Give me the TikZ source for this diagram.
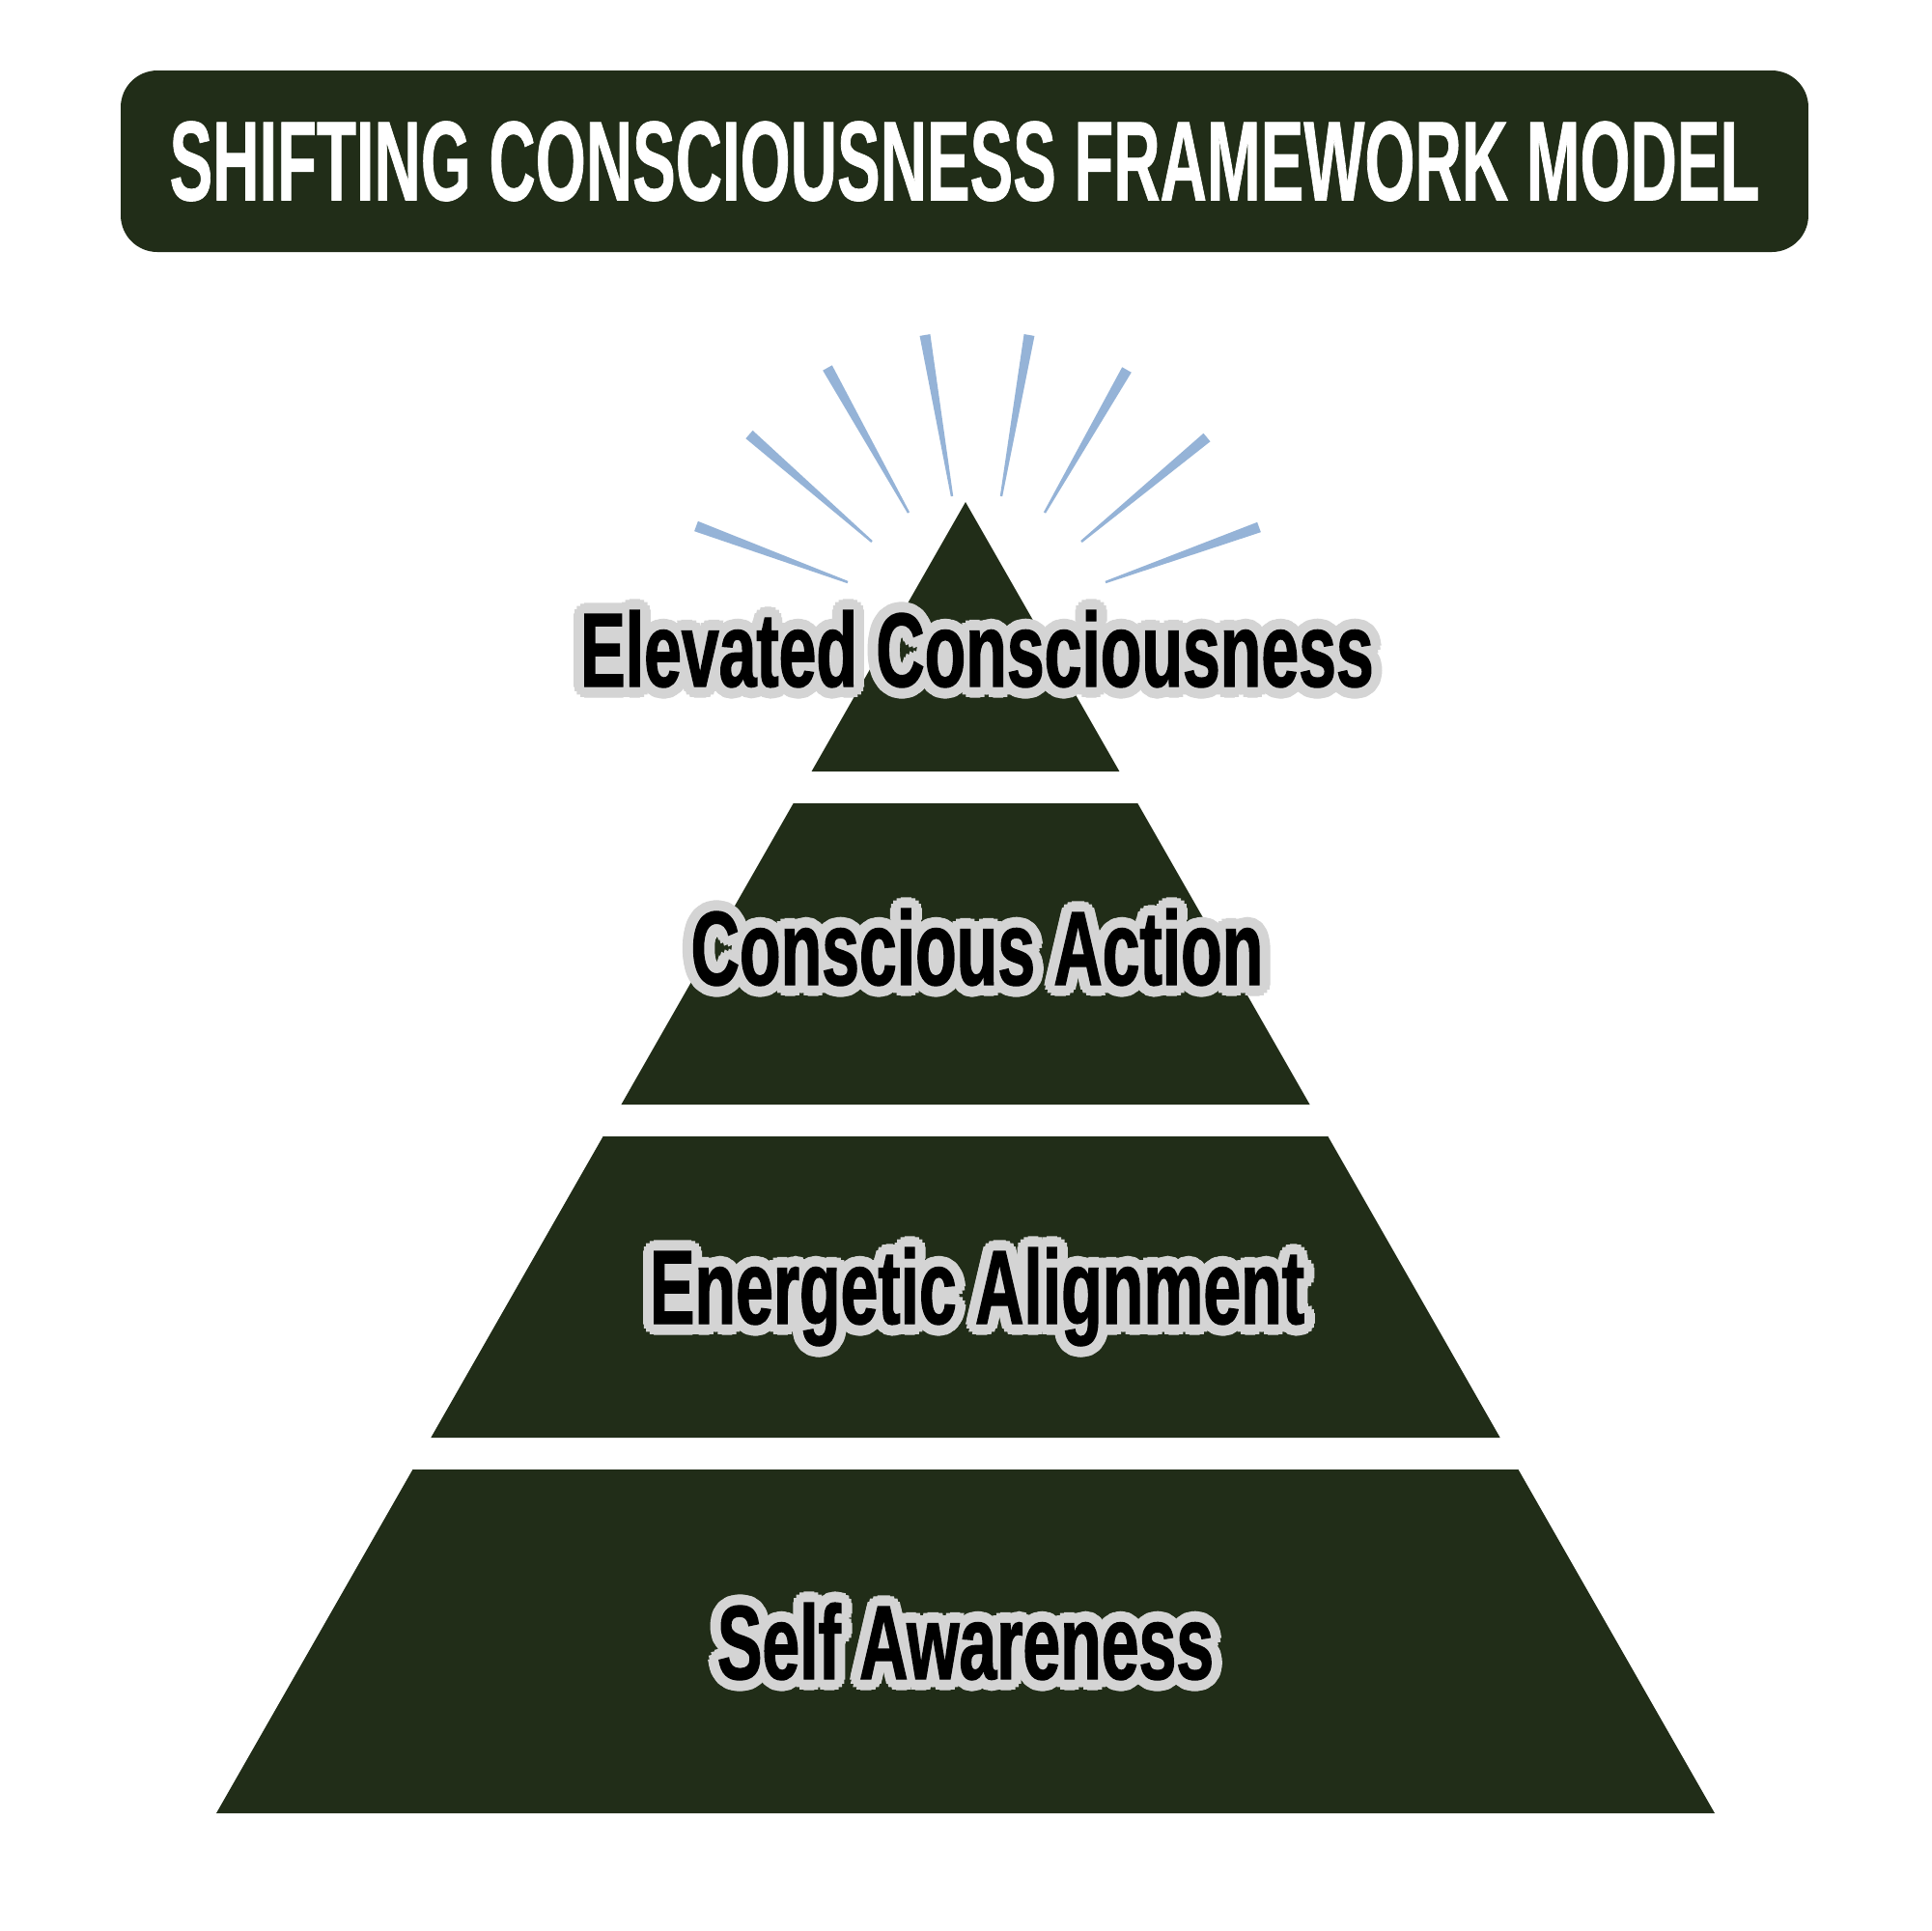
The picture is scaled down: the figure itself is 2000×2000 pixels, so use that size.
\documentclass[tikz,border=0pt]{standalone}
\usepackage{fontspec}
\usepackage[copies]{contour}
\usetikzlibrary{calc}
\newfontfamily\headfont[FakeStretch=0.57,FakeBold=0.6]{Liberation Sans}
\newfontfamily\tierfont[FakeStretch=0.64,FakeBold=1.2]{Liberation Sans}
\definecolor{pyrgreen}{HTML}{212D18}
\definecolor{raysblue}{HTML}{95B3D7}
\definecolor{halogray}{HTML}{D4D4D4}
\contourlength{1.1mm}

\begin{document}
\begin{tikzpicture}
        [x=0.1mm, y=-0.1mm,
         titlebox/.style={fill=pyrgreen, rounded corners=3.8mm, inner sep=0pt,
                          minimum width=174.8mm, minimum height=18.8mm, text=white,
                          font=\headfont\bfseries\fontsize{33.4}{36}\selectfont},
         tier/.style={fill=pyrgreen},
         ray/.style={fill=raysblue},
         level/.style={anchor=base, inner sep=0pt,
                       font=\tierfont\bfseries\fontsize{31}{34}\selectfont}]
        \useasboundingbox[fill=white] (0,0) rectangle (2000,2000);
        \node (title) at (999, 167)[titlebox] {SHIFTING CONSCIOUSNESS FRAMEWORK MODEL};
        % rays above the apex
        \foreach \ox/\oy/\ix/\iy in {721/545/878/603, 776/450/903/561, 857/381/941/531,
                                     958/347/986/514, 1066/347/1037/514, 1167/383/1082/531,
                                     1250/453/1120/561, 1304/546/1145/603}
            \fill [ray] ($(\ox,\oy)!0.55mm!90:(\ix,\iy)$) -- ($(\ox,\oy)!0.55mm!-90:(\ix,\iy)$)
                     -- ($(\ix,\iy)!0.12mm!90:(\ox,\oy)$) -- ($(\ix,\iy)!0.12mm!-90:(\ox,\oy)$) -- cycle;
        % pyramid tiers
        \foreach \ytop/\ybot in {520/799, 832/1144, 1177/1489, 1522/1878}
            \fill [tier] ({1000-0.5714*(\ytop-520)}, \ytop) -- ({1000+0.5714*(\ytop-520)}, \ytop)
                      -- ({1000+0.5714*(\ybot-520)}, \ybot) -- ({1000-0.5714*(\ybot-520)}, \ybot) -- cycle;
        \node (elevated)  at (1012,  711)[level] {\contour{halogray}{Elevated Consciousness}};
        \node (action)    at (1012, 1020)[level] {\contour{halogray}{Conscious Action}};
        \node (alignment) at (1012, 1371)[level] {\contour{halogray}{Energetic Alignment}};
        \node (awareness) at (1000, 1739)[level] {\contour{halogray}{Self Awareness}};
    \end{tikzpicture}
\end{document}
